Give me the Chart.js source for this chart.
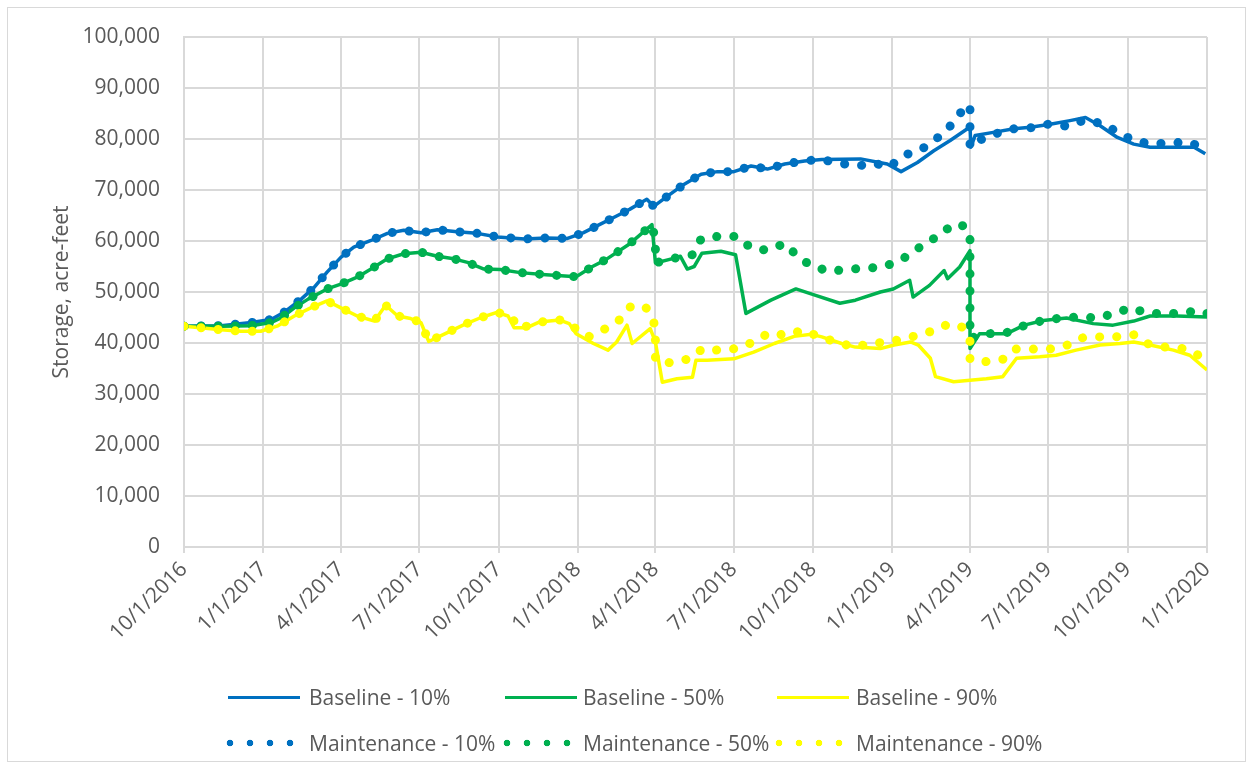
<!DOCTYPE html>
<html>
<head>
<meta charset="utf-8">
<script src="https://cdn.jsdelivr.net/npm/chart.js@4.4.0/dist/chart.umd.min.js"></script>
<style>
    body { margin: 0; background: #fff; }
    #wrap { position: relative; width: 1253px; height: 769px; font-family: "Open Sans", sans-serif; color: #595959; }
    #frame { position: absolute; left: 7px; top: 7px; width: 1237px; height: 753px; border: 1px solid #d9d9d9; }
    canvas { position: absolute; left: 0; top: 0; }
    .key { position: absolute; font-size: 21px; line-height: 28px; white-space: nowrap; }
    .solid { position: absolute; width: 72px; height: 3px; }
    .dots { position: absolute; width: 80px; height: 8px; background-size: 20px 8px; background-repeat: repeat-x; }
</style>
</head>
<body>
<div id="wrap">
    <div id="frame"></div>
    <canvas id="chart" width="1253" height="769"></canvas>
    <div id="legend"></div>
</div>
<script>
// x values are days since 10/1/2016
const startDate = Date.UTC(2016, 9, 1);
const tickLabels = ["10/1/2016", "1/1/2017", "4/1/2017", "7/1/2017", "10/1/2017", "1/1/2018", "4/1/2018",
    "7/1/2018", "10/1/2018", "1/1/2019", "4/1/2019", "7/1/2019", "10/1/2019", "1/1/2020"];

const baseline10 = [[0, 43300], [43, 43400], [78, 44000], [101, 44600], [116, 46000], [136, 48600], [151, 50900],
    [166, 53900], [182, 56800], [197, 58800], [217, 60100], [236, 61500], [255, 62100], [275, 61600], [294, 62200],
    [317, 61800], [340, 61500], [364, 60800], [395, 60400], [420, 60600], [445, 60500], [463, 61600], [482, 63200],
    [502, 64900], [517, 66200], [537, 68200], [545, 66800], [561, 68800], [580, 71100], [600, 73100], [619, 73600],
    [638, 73600], [658, 74700], [677, 74100], [697, 75100], [720, 75700], [740, 76000], [785, 76100], [816, 75100],
    [832, 73600], [851, 75400], [870, 77700], [889, 79700], [909, 82000], [912, 82600], [913, 78400], [918, 80700],
    [939, 81300], [963, 82000], [982, 82300], [1005, 82900], [1028, 83600], [1046, 84200], [1063, 82600],
    [1083, 80300], [1102, 79000], [1121, 78400], [1145, 78400], [1172, 78400], [1185, 77100]];

const baseline50 = [[0, 43300], [43, 43300], [78, 43400], [101, 44000], [113, 44950], [128, 46900], [144, 48600],
    [166, 50600], [182, 51550], [201, 52900], [217, 54500], [236, 56500], [255, 57500], [275, 57800], [294, 57000],
    [313, 56500], [329, 55800], [348, 54500], [367, 54400], [390, 53800], [420, 53400], [455, 53000], [474, 55000],
    [489, 56300], [516, 59300], [543, 63200], [547, 55700], [568, 56600], [576, 57000], [584, 54500], [592, 55000],
    [601, 57600], [623, 58000], [640, 57300], [652, 45800], [681, 48400], [710, 50600], [732, 49400], [761, 47800],
    [779, 48400], [808, 50000], [823, 50600], [842, 52300], [846, 49000], [865, 51300], [882, 54200], [886, 52600],
    [900, 54900], [912, 58100], [912, 38900], [923, 41800], [954, 41800], [975, 43500], [997, 44400], [1024, 44900],
    [1055, 43800], [1078, 43500], [1102, 44300], [1121, 45300], [1152, 45300], [1187, 45100]];

const baseline90 = [[0, 43300], [19, 43000], [43, 42600], [66, 42300], [89, 42300], [108, 43300], [128, 45300],
    [147, 46900], [166, 48250], [182, 46900], [201, 45300], [221, 44300], [234, 47400], [248, 45300], [263, 44800],
    [275, 44000], [284, 40300], [305, 42000], [325, 43600], [344, 44950], [363, 46000], [376, 45300], [383, 43000],
    [398, 43000], [412, 44100], [436, 44500], [447, 43800], [455, 41800], [475, 39900], [492, 38600], [502, 40200],
    [514, 43500], [520, 39900], [541, 42800], [547, 40200], [555, 32300], [572, 33000], [590, 33300], [594, 36600],
    [607, 36600], [638, 36900], [661, 38200], [685, 39900], [708, 41300], [728, 41700], [740, 41200], [763, 39900],
    [779, 39200], [808, 38900], [824, 39600], [843, 40200], [852, 39600], [866, 37000], [872, 33400], [893, 32400],
    [912, 32700], [931, 33000], [950, 33400], [966, 37000], [993, 37300], [1012, 37600], [1035, 38600],
    [1063, 39600], [1086, 39900], [1102, 40200], [1121, 39600], [1148, 38600], [1167, 37600], [1187, 34700]];

const maintenance10 = [[0, 43300], [43, 43400], [78, 44000], [101, 44600], [116, 46000], [136, 48600], [151, 50900],
    [166, 53900], [182, 56800], [197, 58800], [217, 60100], [236, 61500], [255, 62100], [275, 61600], [294, 62200],
    [317, 61800], [340, 61500], [364, 60800], [395, 60400], [420, 60600], [445, 60500], [463, 61600], [482, 63200],
    [502, 64900], [517, 66200], [537, 68200], [545, 66800], [561, 68800], [580, 71100], [600, 73100], [619, 73600],
    [638, 73600], [658, 74700], [677, 74100], [697, 75100], [720, 75700], [740, 76000], [760, 75200], [785, 74800],
    [800, 75300], [818, 74500], [837, 76900], [855, 77900], [872, 79900], [887, 82100], [900, 85000], [912, 86700],
    [912, 78400], [922, 79700], [941, 81000], [963, 82000], [982, 82200], [1003, 82900], [1026, 82500],
    [1046, 83800], [1067, 82900], [1084, 81300], [1102, 79700], [1123, 79000], [1146, 79300], [1169, 79300],
    [1185, 77700]];

const maintenance50 = [[0, 43300], [43, 43300], [78, 43400], [101, 44000], [113, 44950], [128, 46900], [144, 48600],
    [166, 50600], [182, 51550], [201, 52900], [217, 54500], [236, 56500], [255, 57500], [275, 57800], [294, 57000],
    [313, 56500], [329, 55800], [348, 54500], [367, 54400], [390, 53800], [420, 53400], [455, 53000], [474, 55000],
    [489, 56300], [516, 59300], [543, 63200], [547, 60000], [547, 55700], [568, 56600], [590, 57300], [600, 60400],
    [619, 60900], [642, 60900], [658, 58600], [677, 58200], [697, 59500], [712, 57000], [728, 55100], [750, 54000],
    [769, 54500], [791, 54600], [813, 55000], [834, 56500], [851, 58500], [867, 60100], [883, 62200], [901, 63400],
    [912, 61600], [912, 40900], [931, 41800], [954, 42000], [973, 43300], [994, 44300], [1017, 44900],
    [1040, 45100], [1061, 44900], [1079, 45800], [1099, 46900], [1118, 45800], [1138, 45800], [1157, 45800],
    [1176, 46400], [1187, 45800]];

const maintenance90 = [[0, 43300], [19, 43000], [43, 42600], [66, 42300], [89, 42300], [108, 43300], [128, 45300],
    [147, 46900], [166, 48250], [182, 46900], [201, 45300], [221, 44300], [234, 47400], [248, 45300], [263, 44800],
    [275, 44000], [284, 40300], [305, 42000], [325, 43600], [344, 44950], [363, 46000], [379, 45300], [389, 42800],
    [412, 44100], [436, 44500], [455, 42800], [469, 41200], [489, 42800], [505, 44500], [518, 47100], [535, 47200],
    [545, 44500], [547, 40500], [547, 36600], [565, 36100], [586, 36900], [602, 38900], [619, 38600], [641, 38900],
    [661, 40200], [679, 42000], [699, 41500], [718, 42500], [738, 41200], [757, 40200], [777, 39200], [797, 39900],
    [818, 40200], [836, 40900], [854, 41600], [871, 42500], [888, 43800], [903, 43100], [912, 40900], [912, 36800],
    [928, 36300], [950, 36800], [964, 38800], [981, 38800], [1004, 38800], [1025, 39600], [1042, 41000],
    [1062, 41200], [1081, 41200], [1102, 41600], [1117, 39900], [1138, 39200], [1161, 38900], [1177, 37600],
    [1181, 36300]];

const blue = "#0070C0";
const green = "#00B050";
const yellow = "#FFFF00";
const textColor = "#595959";
const gridColor = "#d9d9d9";

let tickDays = tickLabels.map(label => {
    let [m, d, y] = label.split("/").map(Number);
    return Math.round((Date.UTC(y, m - 1, d) - startDate) / 86400000);
});

function toPoints(arr) {
    return arr.map(([x, y]) => ({ x, y }));
}

function solidSet(label, arr, color, order) {
    return { label, data: toPoints(arr), borderColor: color, backgroundColor: color, borderWidth: 3.5,
        pointRadius: 0, tension: 0, borderJoinStyle: "round", order };
}

function dottedSet(label, arr, color, order) {
    return { label, data: toPoints(arr), borderColor: color, backgroundColor: color, borderWidth: 9,
        borderDash: [0.1, 17], borderCapStyle: "round", borderJoinStyle: "round",
        pointRadius: 0, tension: 0, order };
}

let datasets = [
    solidSet("Baseline - 10%", baseline10, blue, 6),
    solidSet("Baseline - 50%", baseline50, green, 5),
    solidSet("Baseline - 90%", baseline90, yellow, 4),
    dottedSet("Maintenance - 10%", maintenance10, blue, 3),
    dottedSet("Maintenance - 50%", maintenance50, green, 2),
    dottedSet("Maintenance - 90%", maintenance90, yellow, 1)
];

Chart.defaults.font.family = "'Open Sans', sans-serif";
Chart.defaults.font.size = 21;
Chart.defaults.color = textColor;

new Chart(document.getElementById("chart").getContext("2d"), {
    type: "line",
    data: { datasets },
    options: {
        responsive: false,
        animation: false,
        layout: { padding: { left: 45, right: 46, top: 37, bottom: 122 } },
        plugins: { legend: { display: false }, tooltip: { enabled: false } },
        scales: {
            x: {
                type: "linear",
                min: 0,
                max: 1187,
                afterBuildTicks: scale => { scale.ticks = tickDays.map(v => ({ value: v })); },
                afterFit: scale => { scale.height = 100; },
                ticks: {
                    autoSkip: false,
                    minRotation: 45,
                    maxRotation: 45,
                    padding: 4,
                    callback: (value, index) => tickLabels[index]
                },
                grid: { color: gridColor, lineWidth: 2, tickLength: 6 },
                border: { color: gridColor, width: 2 }
            },
            y: {
                min: 0,
                max: 100000,
                afterFit: scale => { scale.width = 139; },
                ticks: {
                    stepSize: 10000,
                    padding: 24,
                    callback: v => v.toLocaleString("en-US")
                },
                grid: { color: gridColor, lineWidth: 2, drawTicks: false },
                border: { color: gridColor, width: 2 },
                title: { display: true, text: "Storage, acre-feet", padding: { top: 4, bottom: 0 } }
            }
        }
    }
});

// legend laid out as in the original: two rows of three
let legendRows = [697, 743];
let sampleLeft = [228, 505, 777];
let textLeft = [309, 583, 856];
let legend = document.getElementById("legend");
datasets.forEach((ds, i) => {
    let row = Math.floor(i / 3);
    let col = i % 3;
    let y = legendRows[row];
    let sample = document.createElement("div");
    if (row === 0) {
        sample.className = "solid";
        sample.style.left = sampleLeft[col] + "px";
        sample.style.top = (y - 1.5) + "px";
        sample.style.background = ds.borderColor;
    } else {
        sample.className = "dots";
        sample.style.left = (sampleLeft[col] - 8) + "px";
        sample.style.top = (y - 4) + "px";
        sample.style.backgroundImage = `radial-gradient(circle, ${ds.borderColor} 0 3px, transparent 3.6px)`;
    }
    legend.appendChild(sample);
    let text = document.createElement("span");
    text.className = "key";
    text.style.left = textLeft[col] + "px";
    text.style.top = (y - 14) + "px";
    text.innerText = ds.label;
    legend.appendChild(text);
});
</script>
</body>
</html>
